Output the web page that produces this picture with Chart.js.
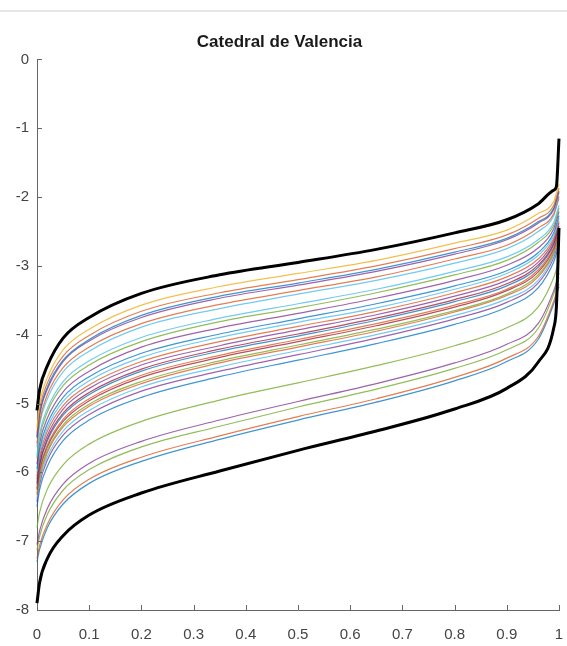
<!DOCTYPE html>
<html>
<head>
<meta charset="utf-8">
<script src="https://cdn.jsdelivr.net/npm/chart.js@4.4.1/dist/chart.umd.min.js"></script>
<style>
  html, body { margin: 0; padding: 0; background: #fff; }
  #topline { position: absolute; left: 0; top: 10px; width: 567px; border-top: 2px solid #e6e6e6; }
  #wrap { position: absolute; left: 0; top: 0; width: 567px; height: 646px; }
</style>
</head>
<body>
<div id="topline"></div>
<div id="wrap"><canvas id="curves" width="567" height="646"></canvas></div>
<script>
// x positions shared by every curve
const xValues = [0, 0.005, 0.02, 0.05, 0.1, 0.2, 0.35, 0.5, 0.65, 0.8, 0.9, 0.96, 0.99, 0.995, 1];

// tick labels
const xTicks = [0, 0.1, 0.2, 0.3, 0.4, 0.5, 0.6, 0.7, 0.8, 0.9, 1];
const yTicks = [0, -1, -2, -3, -4, -5, -6, -7, -8];

// thick black envelopes
const upperEnvelope = [-5.10, -4.80, -4.45, -4.05, -3.75, -3.40, -3.13, -2.95, -2.76, -2.52, -2.33, -2.10, -1.90, -1.85, -1.15];
const lowerEnvelope = [-7.90, -7.60, -7.25, -6.92, -6.62, -6.30, -5.98, -5.68, -5.40, -5.08, -4.78, -4.40, -3.90, -3.60, -2.45];

// coloured curves, top to bottom
const s01 = [-5.35, -5.01, -4.62, -4.22, -3.92, -3.57, -3.30, -3.11, -2.92, -2.67, -2.48, -2.24, -2.06, -1.94, -1.81];
const s02 = [-5.43, -5.09, -4.70, -4.31, -4.01, -3.66, -3.39, -3.20, -3.00, -2.75, -2.55, -2.31, -2.12, -2.00, -1.87];
const s03 = [-5.48, -5.15, -4.76, -4.37, -4.07, -3.72, -3.44, -3.25, -3.05, -2.80, -2.60, -2.36, -2.16, -2.04, -1.91];
const s04 = [-5.50, -5.17, -4.79, -4.39, -4.09, -3.75, -3.47, -3.28, -3.08, -2.83, -2.62, -2.38, -2.18, -2.06, -1.93];
const s05 = [-5.58, -5.26, -4.87, -4.48, -4.18, -3.84, -3.56, -3.36, -3.16, -2.90, -2.70, -2.45, -2.24, -2.12, -1.99];
const s06 = [-5.63, -5.31, -4.93, -4.54, -4.24, -3.89, -3.62, -3.41, -3.21, -2.96, -2.75, -2.50, -2.27, -2.15, -2.02];
const s07 = [-5.75, -5.44, -5.07, -4.68, -4.38, -4.04, -3.76, -3.55, -3.34, -3.08, -2.87, -2.62, -2.37, -2.25, -2.12];
const s08 = [-5.80, -5.50, -5.12, -4.74, -4.44, -4.10, -3.81, -3.61, -3.39, -3.13, -2.92, -2.66, -2.41, -2.29, -2.16];
const s09 = [-5.88, -5.58, -5.21, -4.83, -4.53, -4.18, -3.90, -3.69, -3.47, -3.21, -2.99, -2.74, -2.46, -2.34, -2.21];
const s10 = [-5.95, -5.66, -5.29, -4.91, -4.61, -4.27, -3.99, -3.77, -3.55, -3.29, -3.07, -2.81, -2.52, -2.40, -2.27];
const s11 = [-6.00, -5.71, -5.35, -4.97, -4.67, -4.33, -4.04, -3.82, -3.61, -3.34, -3.11, -2.85, -2.56, -2.44, -2.31];
const s12 = [-6.05, -5.77, -5.40, -5.03, -4.73, -4.39, -4.10, -3.88, -3.66, -3.39, -3.16, -2.90, -2.60, -2.48, -2.35];
const s13 = [-6.10, -5.82, -5.46, -5.08, -4.78, -4.44, -4.16, -3.93, -3.71, -3.44, -3.21, -2.95, -2.63, -2.51, -2.38];
const s14 = [-6.15, -5.88, -5.51, -5.14, -4.84, -4.50, -4.21, -3.99, -3.76, -3.49, -3.26, -2.99, -2.67, -2.55, -2.42];
const s15 = [-6.18, -5.90, -5.54, -5.17, -4.87, -4.53, -4.24, -4.02, -3.79, -3.52, -3.29, -3.02, -2.69, -2.57, -2.44];
const s16 = [-6.23, -5.96, -5.60, -5.23, -4.93, -4.59, -4.30, -4.07, -3.84, -3.57, -3.34, -3.06, -2.73, -2.61, -2.48];
const s17 = [-6.25, -5.98, -5.63, -5.26, -4.96, -4.62, -4.33, -4.10, -3.87, -3.60, -3.36, -3.09, -2.75, -2.63, -2.50];
const s18 = [-6.30, -6.04, -5.68, -5.31, -5.01, -4.68, -4.38, -4.15, -3.92, -3.65, -3.41, -3.13, -2.79, -2.67, -2.54];
const s19 = [-6.33, -6.07, -5.71, -5.34, -5.04, -4.71, -4.41, -4.18, -3.95, -3.67, -3.43, -3.16, -2.81, -2.69, -2.56];
const s20 = [-6.38, -6.12, -5.77, -5.40, -5.10, -4.76, -4.47, -4.23, -4.00, -3.72, -3.48, -3.21, -2.84, -2.72, -2.59];
const s21 = [-6.43, -6.17, -5.82, -5.46, -5.16, -4.82, -4.53, -4.29, -4.05, -3.77, -3.53, -3.25, -2.88, -2.76, -2.63];
const s22 = [-6.50, -6.25, -5.91, -5.54, -5.24, -4.91, -4.61, -4.37, -4.13, -3.85, -3.60, -3.32, -2.94, -2.82, -2.69];
const s23 = [-6.80, -6.58, -6.24, -5.89, -5.59, -5.26, -4.95, -4.70, -4.45, -4.16, -3.90, -3.60, -3.17, -3.05, -2.92];
const s24 = [-7.05, -6.85, -6.52, -6.17, -5.87, -5.55, -5.24, -4.97, -4.71, -4.41, -4.14, -3.84, -3.36, -3.24, -3.11];
const s25 = [-7.13, -6.93, -6.61, -6.26, -5.96, -5.63, -5.33, -5.05, -4.79, -4.49, -4.22, -3.91, -3.41, -3.29, -3.16];
const s26 = [-7.25, -7.06, -6.75, -6.40, -6.10, -5.78, -5.47, -5.19, -4.93, -4.62, -4.34, -4.03, -3.51, -3.39, -3.26];
const s27 = [-7.30, -7.12, -6.80, -6.46, -6.16, -5.84, -5.52, -5.24, -4.98, -4.67, -4.39, -4.07, -3.55, -3.43, -3.30];

const colouredSeries = [s01, s02, s03, s04, s05, s06, s07, s08, s09, s10, s11, s12, s13, s14,
  s15, s16, s17, s18, s19, s20, s21, s22, s23, s24, s25, s26, s27];

// matlab default line colours, a bit washed out like the picture
const blue = 'rgba(0,114,189,0.75)', orange = 'rgba(217,83,25,0.75)', yellow = 'rgba(237,177,32,0.8)',
      purple = 'rgba(126,47,142,0.75)', green = 'rgba(119,172,48,0.8)', cyan = 'rgba(77,190,238,0.8)',
      red = 'rgba(162,20,47,0.75)';
const seriesColours = [yellow, orange, blue, purple, orange, cyan, cyan, green, purple, blue,
  cyan, orange, purple, red, blue, orange, red, green, orange, cyan, purple, blue,
  green, purple, green, orange, blue];

const toPoints = arr => arr.map((y, i) => ({ x: xValues[i], y: y }));

const datasets = [
  { data: toPoints(upperEnvelope), borderColor: '#000', borderWidth: 3 },
  { data: toPoints(lowerEnvelope), borderColor: '#000', borderWidth: 3 }
].concat(colouredSeries.map((s, i) => ({
  data: toPoints(s),
  borderColor: seriesColours[i],
  borderWidth: 1.2
})));

// matlab style inward tick marks
const inwardTicks = {
  id: 'inwardTicks',
  afterDraw(chart) {
    const c = chart.ctx, a = chart.chartArea;
    const xs = chart.scales.x, ys = chart.scales.y;
    c.save();
    c.strokeStyle = '#666';
    c.lineWidth = 1;
    c.beginPath();
    xTicks.forEach(v => {
      const px = Math.round(xs.getPixelForValue(v)) + 0.5;
      c.moveTo(px, a.bottom); c.lineTo(px, a.bottom - 5);
    });
    yTicks.forEach(v => {
      const py = Math.round(ys.getPixelForValue(v)) + 0.5;
      c.moveTo(a.left, py); c.lineTo(a.left + 5, py);
    });
    c.stroke();
    c.restore();
  }
};

const tickFont = { family: "'Liberation Sans Narrow', 'Liberation Sans', Arial, sans-serif", size: 15 };

new Chart(document.getElementById('curves').getContext('2d'), {
  type: 'line',
  data: { datasets: datasets },
  options: {
    responsive: false,
    animation: false,
    layout: { padding: { top: 32, right: 8, left: 0, bottom: 0 } },
    elements: {
      point: { radius: 0 },
      line: { cubicInterpolationMode: 'monotone', fill: false }
    },
    datasets: { line: { clip: false } },
    plugins: {
      legend: { display: false },
      tooltip: { enabled: false },
      title: {
        display: true,
        text: 'Catedral de Valencia',
        color: '#1a1a1a',
        font: { family: "'Liberation Sans Narrow', 'Liberation Sans', Arial, sans-serif", size: 17, weight: 'bold' },
        padding: { top: 0, bottom: 7 }
      }
    },
    scales: {
      x: {
        type: 'linear',
        min: 0,
        max: 1,
        afterBuildTicks: s => { s.ticks = xTicks.map(v => ({ value: v })); },
        afterFit: s => { s.height = 36; },
        // invisible tick marks push the labels down without widening the right padding
        grid: { drawOnChartArea: false, drawTicks: true, tickLength: 14, tickColor: 'rgba(0,0,0,0)' },
        border: { color: '#666', width: 1 },
        ticks: {
          color: '#444',
          font: tickFont,
          padding: 2,
          maxRotation: 0,
          callback: v => String(Math.round(v * 10) / 10)
        }
      },
      y: {
        min: -8,
        max: 0,
        afterBuildTicks: s => { s.ticks = yTicks.map(v => ({ value: v })); },
        afterFit: s => { s.width = 37; },
        grid: { drawOnChartArea: false, drawTicks: false },
        border: { color: '#666', width: 1 },
        ticks: { color: '#444', font: tickFont, padding: 8 }
      }
    }
  },
  plugins: [inwardTicks]
});
</script>
</body>
</html>
